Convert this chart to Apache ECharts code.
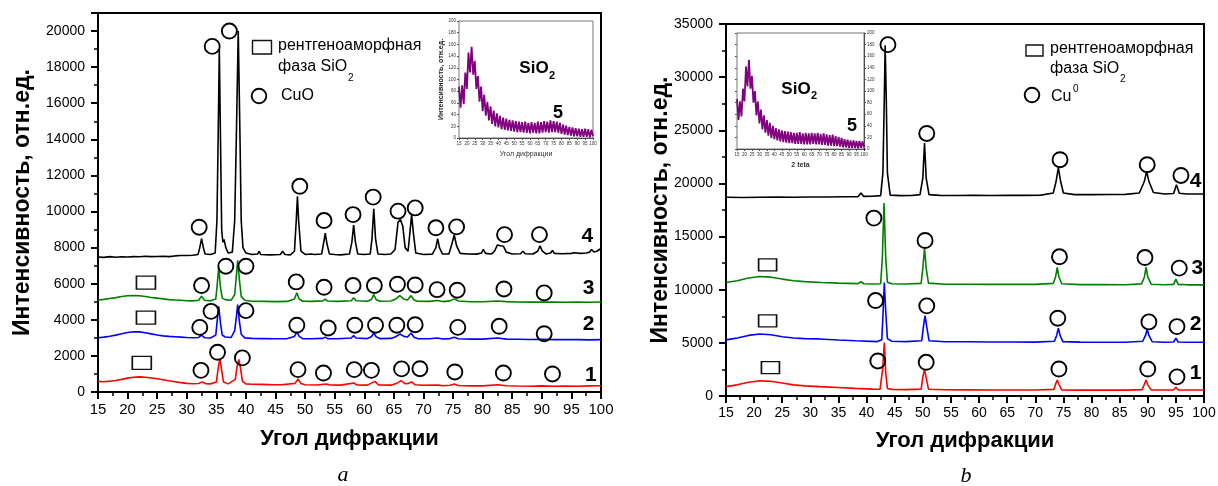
<!DOCTYPE html>
<html><head><meta charset="utf-8">
<script src="https://cdn.jsdelivr.net/npm/echarts@6/dist/echarts.min.js"></script>
<style>html,body{margin:0;padding:0;background:#fff}#c{width:1218px;height:486px}</style>
</head><body><div id="c"></div>
<script>
// ---------- Panel a (CuO) traces: [2theta, intensity] ----------
const a4 = [[15,7480],[16,7460],[17,7500],[18,7470],[19,7490],[20,7480],[21,7500],[22,7490],[23,7520],[24,7500],[25,7510],[26,7520],[27,7500],[28,7540],[29,7560],[30,7560],[31,7580],[31.9,7620],[32.2,8000],[32.5,8500],[32.8,8000],[33.1,7650],[34,7620],[34.8,7700],[35.1,9500],[35.3,14000],[35.5,19000],[35.7,14000],[35.9,9000],[36.1,8300],[36.3,8450],[36.6,8000],[37,7700],[37.7,7750],[38.1,9500],[38.4,14500],[38.7,20000],[39,14000],[39.2,9500],[39.5,8000],[40,7700],[41,7620],[42,7650],[42.2,7800],[42.5,7620],[44,7600],[45.8,7620],[46.2,7800],[46.6,7620],[47.5,7600],[48.2,7800],[48.5,9500],[48.7,10850],[48.9,9500],[49.3,7800],[50,7620],[51,7650],[51.3,7750],[51.6,7620],[52.8,7650],[53.1,8200],[53.4,8800],[53.7,8200],[54.1,7650],[55,7620],[56,7600],[57.5,7650],[57.9,8300],[58.2,9250],[58.5,8300],[58.9,7650],[60,7620],[61,7650],[61.3,8500],[61.6,10150],[61.9,8500],[62.3,7650],[63.5,7620],[64.5,7650],[65.2,7900],[65.7,9400],[66.1,9550],[66.5,9200],[66.9,8000],[67.4,7800],[67.7,8800],[68,9830],[68.3,8800],[68.7,7700],[70,7620],[71.5,7640],[72.1,8000],[72.4,8500],[72.7,8000],[73.2,7650],[74.3,7650],[74.8,8200],[75.2,8700],[75.6,8100],[76.2,7680],[77.5,7650],[79,7640],[79.8,7700],[80.1,7900],[80.5,7680],[81.5,7650],[82,7800],[82.5,8150],[83,8100],[83.5,8080],[84,7750],[85,7650],[86.4,7660],[86.8,7800],[87.2,7660],[88.5,7650],[89.3,7800],[89.7,8100],[90.1,7800],[90.7,7650],[91.5,7700],[91.8,7850],[92.1,7680],[93.5,7660],[95,7680],[95.5,7720],[96.5,7680],[97.5,7700],[98.1,7750],[98.4,7900],[98.8,7760],[99.3,7800],[100,7950]];
const a3 = [[15,5100],[16,5130],[17,5180],[18,5230],[19,5290],[20,5330],[21,5350],[22,5330],[23,5290],[24,5240],[25,5200],[26,5160],[27,5120],[28,5100],[29,5080],[30,5060],[31,5050],[32,5080],[32.5,5300],[33,5080],[34,5050],[34.9,5150],[35.1,5800],[35.4,6900],[35.7,5800],[36,5200],[36.5,5120],[37.5,5080],[38.1,5400],[38.4,6500],[38.6,7300],[38.9,6200],[39.2,5300],[39.8,5080],[41,5030],[43,5020],[45,5010],[47,5020],[48.2,5150],[48.6,5500],[49,5150],[49.6,5030],[51,5020],[53,5050],[53.4,5150],[53.8,5040],[55.5,5020],[57.8,5060],[58.2,5220],[58.6,5060],[60.5,5030],[61.2,5120],[61.6,5400],[62,5120],[62.6,5030],[64.5,5040],[65.3,5150],[66,5340],[66.7,5150],[67.3,5100],[67.9,5340],[68.4,5100],[69,5030],[71,5020],[72.3,5070],[73.3,5010],[74.5,5050],[75.2,5160],[75.9,5040],[78,5000],[80,5000],[82.5,5040],[84,5010],[86,4990],[88,4980],[90,4990],[92,4980],[94,4970],[96,4980],[98,4970],[100,4990]];
const a2 = [[15,3010],[16,3040],[17,3090],[18,3150],[19,3230],[20,3300],[21,3340],[22,3330],[23,3280],[24,3220],[25,3160],[26,3110],[27,3080],[28,3060],[29,3040],[30,3020],[31,3010],[32,3020],[32.5,3150],[33,3010],[34,2990],[34.9,3150],[35.1,3800],[35.4,4750],[35.7,3800],[36,3150],[36.5,3050],[37.5,3020],[38.1,3400],[38.4,4200],[38.6,4850],[38.9,3900],[39.2,3200],[39.8,3000],[41,2970],[43,2960],[45,2950],[47,2960],[48.2,3080],[48.6,3330],[49,3080],[49.6,2960],[51,2950],[53,2970],[53.4,3040],[53.8,2960],[55.5,2950],[57.8,2990],[58.2,3120],[58.6,2990],[60.5,2960],[61.2,3060],[61.6,3270],[62,3060],[62.6,2960],[64.5,2970],[65.3,3060],[66,3210],[66.7,3080],[67.3,3050],[67.9,3270],[68.4,3030],[69,2960],[71,2950],[72.3,2990],[73.3,2940],[74.5,2960],[75.2,3030],[75.9,2950],[78,2930],[80,2930],[82.5,2990],[84,2930],[86,2920],[88,2910],[90,2920],[92,2900],[94,2910],[96,2900],[98,2890],[100,2900]];
const a1 = [[15,590],[16,570],[17,600],[18,640],[19,700],[20,770],[21,820],[22,840],[23,820],[24,780],[25,730],[26,680],[27,620],[28,570],[29,520],[30,480],[31,460],[32,470],[32.6,560],[33.2,460],[34,450],[35,550],[35.3,1300],[35.6,1850],[35.9,1200],[36.2,560],[37,450],[38.2,700],[38.5,1400],[38.8,1800],[39.1,1300],[39.4,600],[40,450],[41,430],[42.5,420],[44,410],[46,400],[48.3,480],[48.8,720],[49.3,470],[50,400],[52,390],[53.6,440],[54.2,390],[56,380],[58.2,500],[58.8,390],[60.5,380],[61.8,590],[62.4,390],[64.5,380],[65.5,480],[66.2,630],[66.9,460],[67.5,480],[68,560],[68.6,400],[70,370],[72.5,380],[73.3,350],[74.5,370],[75.2,440],[75.9,360],[78,340],[80,340],[82.5,400],[84,350],[86,330],[88,320],[90,340],[92,320],[94,330],[96,320],[98,340],[100,350]];
const aCircles = [[32.1,9130],[34.3,19150],[37.2,20000],[49.1,11400],[53.2,9500],[58.1,9830],[61.5,10800],[65.7,10020],[68.6,10200],[72.1,9100],[75.6,9150],[83.7,8720],[89.6,8720],
  [32.5,5900],[36.6,6970],[40,6970],[48.5,6100],[53.2,5800],[58.1,5900],[61.7,5900],[65.6,5970],[68.6,5930],[72.3,5670],[75.7,5640],[83.6,5710],[90.4,5490],
  [32.2,3580],[34.1,4470],[40,4510],[48.6,3700],[53.9,3550],[58.4,3700],[61.9,3700],[65.5,3700],[68.6,3730],[75.8,3580],[82.8,3640],[90.4,3230],
  [32.4,1200],[35.2,2200],[39.4,1890],[48.8,1240],[53.1,1050],[58.3,1240],[61.2,1200],[66.3,1280],[69.4,1290],[75.3,1110],[83.5,1050],[91.8,1000]];
const aSquares = [[23.1,6060],[23.1,4120],[22.4,1610]];
const aLabels = [['4',97.7,8630],['3',97.9,5770],['2',97.9,3730],['1',98.3,950]];

// ---------- Panel b (Cu0) traces ----------
const b4 = [[15,18700],[18,18680],[21,18700],[24,18720],[27,18700],[30,18730],[33,18720],[36,18750],[38.5,18760],[39,19100],[39.5,18780],[41,18790],[42.5,18850],[42.9,21000],[43.15,28000],[43.3,33000],[43.5,28000],[43.7,21000],[44.2,18900],[46,18850],[48,18860],[49.5,18950],[50,20500],[50.3,23800],[50.6,20500],[51.1,18950],[53,18880],[56,18870],[59,18880],[62,18870],[65,18890],[68,18880],[71,18900],[73.2,19100],[73.7,20200],[74.1,21480],[74.5,20200],[75,19100],[77,18950],[80,18950],[83,18960],[86,18970],[88.5,19100],[89.4,20200],[89.8,21130],[90.2,20200],[91,19150],[93,19000],[94.6,19050],[95.1,19880],[95.6,19080],[97,19000],[100,19000]];
const b3 = [[15,10680],[17,10850],[19,11100],[21,11240],[23,11180],[25,11000],[27,10850],[29,10760],[32,10680],[35,10620],[38.5,10570],[39,10750],[39.5,10560],[41,10540],[42.5,10560],[42.8,13000],[43.1,18150],[43.4,13000],[43.7,10700],[44.5,10560],[47,10540],[49.7,10600],[50,12000],[50.3,13920],[50.6,12000],[51,10620],[54,10520],[58,10510],[62,10500],[66,10500],[70,10500],[73.2,10600],[73.6,11200],[73.9,12090],[74.2,11200],[74.7,10560],[78,10480],[82,10480],[86,10470],[88.9,10550],[89.4,11200],[89.7,12120],[90,11200],[90.6,10520],[93,10470],[94.6,10500],[95,10990],[95.4,10500],[97,10460],[100,10460]];
const b2 = [[15,5280],[17,5450],[19,5700],[21,5840],[23,5760],[25,5580],[27,5450],[29,5400],[31.6,5370],[35,5270],[38,5200],[41.9,5120],[42.7,5300],[42.95,8000],[43.15,10680],[43.4,8000],[43.7,5400],[44.5,5150],[47,5120],[49.8,5200],[50.1,6500],[50.4,7570],[50.7,6500],[51.1,5200],[54,5100],[58,5100],[62,5080],[66,5080],[70,5070],[73.4,5150],[73.8,5700],[74.1,6380],[74.4,5700],[74.9,5120],[78,5070],[82,5060],[86,5060],[89.1,5150],[89.6,5700],[89.9,6280],[90.2,5700],[90.8,5100],[93,5060],[94.6,5080],[95,5440],[95.4,5080],[97,5060],[100,5060]];
const b1 = [[15,880],[17,1050],[19,1300],[21,1440],[23,1380],[25,1220],[27,1050],[29,950],[31.6,880],[35,800],[38,720],[41,650],[42.4,640],[42.85,2500],[43.15,5020],[43.4,2200],[43.7,700],[44.5,620],[47,600],[49.7,650],[50,1800],[50.3,2510],[50.6,1700],[51,640],[54,590],[58,580],[62,570],[66,570],[70,560],[73.3,620],[73.6,1100],[73.9,1510],[74.2,1100],[74.7,580],[78,550],[82,550],[86,550],[89,600],[89.4,1100],[89.7,1510],[90,1050],[90.6,580],[93,560],[94.6,580],[95,820],[95.4,580],[97,560],[100,565]];
const bCircles = [[43.8,33060],[50.7,24700],[74.4,22230],[89.9,21760],[95.9,20750],
  [41.3,16740],[50.4,14630],[74.3,13100],[89.5,13030],[95.6,12030],
  [41.6,8980],[50.7,8480],[74,7320],[90.2,6970],[95.2,6530],
  [42,3300],[50.6,3170],[74.2,2540],[90,2540],[95.2,1800]];
const bSquares = [[22.4,12340],[22.4,7070],[22.9,2670]];
const bLabels = [['4',98.5,20190],['3',98.8,12030],['2',98.5,6780],['1',98.5,2140]];

// ---------- Insets (SiO2, sample 5): noisy band read as alternating high/low ----------
const insetX = [15,16,17,18,19,20,21,22,23,24,25,26,27,28,29,30,31,32,33,34,35,36,37,38,39,40,41,42,43,44,45,46,47,48,49,50,51,52,53,54,55,56,57,58,59,60,61,62,63,64,65,66,67,68,69,70,71,72,73,74,75,76,77,78,79,80,81,82,83,84,85,86,87,88,89,90,91,92,93,94,95,96,97,98,99,100];
const insetA = [88,52,90,58,112,84,146,112,156,108,132,84,106,62,88,46,74,38,62,30,54,24,47,20,42,18,38,15,35,14,33,13,31,12,30,11,29,10,28,10,27,9,28,9,26,8,27,9,26,8,28,8,27,9,29,10,28,9,30,10,29,10,28,9,26,7,23,6,21,5,19,4,18,3,17,3,16,2,15,2,16,2,15,1,14,3];
const insetB = [86,50,82,56,104,82,142,108,154,104,126,80,100,58,82,44,68,34,58,28,50,23,45,19,40,17,36,15,34,13,32,12,31,11,30,10,29,10,28,9,28,9,29,9,27,8,28,8,27,8,28,9,27,8,28,8,26,7,27,7,25,6,24,6,25,5,22,5,21,4,19,3,17,3,16,2,15,2,15,2,14,1,14,2,13,3];

const FONT = 'Liberation Sans, Arial, sans-serif';
const BLACK = '#000';

function mainX(gi, gap, fs) {
  return {gridIndex: gi, type: 'value', min: 15, max: 100, interval: 5,
    name: 'Угол дифракции', nameLocation: 'middle', nameGap: gap, nameMoveOverlap: false,
    nameTextStyle: {fontFamily: FONT, fontSize: 22, fontWeight: 'bold', color: BLACK},
    axisLine: {lineStyle: {color: BLACK, width: 2}},
    axisTick: {length: 7, lineStyle: {color: BLACK, width: 2}},
    minorTick: {show: true, splitNumber: 2, length: 4, lineStyle: {color: BLACK, width: 1.5}},
    axisLabel: {fontFamily: FONT, fontSize: fs, color: BLACK, margin: 10},
    splitLine: {show: false}, minorSplitLine: {show: false}};
}
function mainY(gi, max, step, gap) {
  return {gridIndex: gi, type: 'value', min: 0, max: max, interval: step,
    name: 'Интенсивность, отн.ед.', nameLocation: 'middle', nameGap: gap, nameMoveOverlap: false,
    nameTextStyle: {fontFamily: FONT, fontSize: 23, fontWeight: 'bold', color: BLACK},
    axisLine: {show: true, lineStyle: {color: BLACK, width: 2}},
    axisTick: {show: true, length: 7, lineStyle: {color: BLACK, width: 2}},
    minorTick: {show: true, splitNumber: 2, length: 4, lineStyle: {color: BLACK, width: 1.5}},
    axisLabel: {fontFamily: FONT, fontSize: 14, color: BLACK, margin: 13,
      formatter: v => (v % step === 0 ? String(v) : '')},
    splitLine: {show: false}, minorSplitLine: {show: false}};
}
function insetXAxis(gi, name) {
  return {gridIndex: gi, type: 'value', min: 15, max: 100, interval: 5,
    name: name, nameLocation: 'middle', nameGap: 13, nameMoveOverlap: false,
    nameTextStyle: {fontFamily: FONT, fontSize: 7, color: '#333', fontWeight: name === '2 teta' ? 'bold' : 'normal'},
    axisLine: {lineStyle: {color: '#222', width: 1}},
    axisTick: {length: 2, lineStyle: {color: '#222', width: 0.8}},
    axisLabel: {fontFamily: FONT, fontSize: 4.5, color: '#333', margin: 3},
    splitLine: {show: false}};
}
function insetYAxis(gi, pos, labels, name) {
  return {gridIndex: gi, type: 'value', min: 0, max: 200, interval: 20, position: pos,
    name: name, nameLocation: 'middle', nameGap: 14, nameMoveOverlap: false,
    nameTextStyle: {fontFamily: FONT, fontSize: 7, fontWeight: 'bold', color: '#222'},
    axisLine: {show: true, lineStyle: {color: '#222', width: 1}},
    axisTick: {show: true, length: 2, lineStyle: {color: '#222', width: 0.8}},
    axisLabel: {show: labels, fontFamily: FONT, fontSize: 4.5, color: '#333', margin: 3},
    splitLine: {show: false}};
}
function traceSeries(data, color, xi, yi) {
  return {type: 'line', data: data, xAxisIndex: xi, yAxisIndex: yi, showSymbol: false, symbol: 'none',
    lineStyle: {color: color, width: 1.6}, silent: true, z: 3};
}
function insetSeries(ys, xi, yi) {
  return {type: 'line', data: insetX.map((x, i) => [x, ys[i]]), xAxisIndex: xi, yAxisIndex: yi,
    showSymbol: false, symbol: 'none', lineStyle: {color: '#800080', width: 1.8}, silent: true};
}
function circleSeries(data, xi, yi) {
  return {type: 'scatter', data: data, xAxisIndex: xi, yAxisIndex: yi, symbol: 'circle', symbolSize: 15,
    itemStyle: {color: 'rgba(255,255,255,0)', borderColor: BLACK, borderWidth: 1.9, opacity: 1}, silent: true, z: 5};
}
function squareSeries(data, xi, yi, size) {
  return {type: 'scatter', data: data, xAxisIndex: xi, yAxisIndex: yi, symbol: 'rect', symbolSize: size,
    itemStyle: {color: 'rgba(255,255,255,0)', borderColor: '#111', borderWidth: 1.4, opacity: 1}, silent: true, z: 5};
}
function labelSeries(items, xi, yi) {
  return {type: 'scatter', xAxisIndex: xi, yAxisIndex: yi, symbolSize: 1,
    data: items.map(d => ({name: d[0], value: [d[1], d[2]]})),
    itemStyle: {color: 'rgba(255,255,255,0)', opacity: 1},
    label: {show: true, position: 'inside', formatter: p => p.name, opacity: 1, textBorderWidth: 0,
      fontFamily: FONT, fontSize: 21, fontWeight: 'bold', color: BLACK}, silent: true, z: 6};
}
function txt(x, y, s, size, opts) {
  opts = opts || {};
  return {type: 'text', x: x, y: y, z: 10, silent: true,
    style: {text: s, fontSize: size, fontFamily: opts.family || FONT, fontWeight: opts.weight || 'normal',
      fontStyle: opts.style || 'normal', fill: opts.fill || BLACK,
      align: opts.align || 'left', verticalAlign: 'middle',
      textAlign: opts.align || 'left', textVerticalAlign: 'middle'}};
}

const chart = echarts.init(document.getElementById('c'), null, {renderer: 'canvas'});
chart.setOption({
  animation: false,
  backgroundColor: '#fff',
  grid: [
    {left: 98, top: 13, width: 503, height: 379, show: true, borderColor: BLACK, borderWidth: 2, backgroundColor: 'transparent', outerBoundsMode: 'none', containLabel: false},
    {left: 726, top: 24, width: 478, height: 372, show: true, borderColor: BLACK, borderWidth: 2, backgroundColor: 'transparent', outerBoundsMode: 'none', containLabel: false},
    {left: 459, top: 21, width: 134, height: 117, show: true, borderColor: '#777', borderWidth: 1, backgroundColor: '#fff', outerBoundsMode: 'none', containLabel: false, z: 1},
    {left: 737, top: 33, width: 127, height: 116, show: true, borderColor: '#777', borderWidth: 1, backgroundColor: '#fff', outerBoundsMode: 'none', containLabel: false, z: 1}
  ],
  xAxis: [mainX(0, 36, 15), mainX(1, 34, 14), insetXAxis(2, 'Угол дифракции'), insetXAxis(3, '2 teta')],
  yAxis: [mainY(0, 21000, 2000, 64), mainY(1, 35000, 5000, 54),
    insetYAxis(2, 'left', true, 'Интенсивность, отн.ед.'),
    insetYAxis(3, 'right', true, ''), insetYAxis(3, 'left', false, '')],
  series: [
    traceSeries(a1, '#ff0000', 0, 0), traceSeries(a2, '#0000ff', 0, 0),
    traceSeries(a3, '#008000', 0, 0), traceSeries(a4, BLACK, 0, 0),
    circleSeries(aCircles, 0, 0), squareSeries(aSquares, 0, 0, [19, 13]), labelSeries(aLabels, 0, 0),
    traceSeries(b1, '#ff0000', 1, 1), traceSeries(b2, '#0000ff', 1, 1),
    traceSeries(b3, '#008000', 1, 1), traceSeries(b4, BLACK, 1, 1),
    circleSeries(bCircles, 1, 1), squareSeries(bSquares, 1, 1, [18, 12]), labelSeries(bLabels, 1, 1),
    insetSeries(insetA, 2, 2), insetSeries(insetB, 3, 3)
  ],
  graphic: [
    // legend panel a
    {type: 'rect', shape: {x: 252.5, y: 40.5, width: 19, height: 13.5}, style: {fill: 'none', stroke: '#111', lineWidth: 1.4}, z: 10, silent: true},
    txt(278, 46, 'рентгеноаморфная', 16),
    txt(278, 67, 'фаза SiO', 16),
    txt(348, 78, '2', 10),
    {type: 'circle', shape: {cx: 259, cy: 96, r: 7.3}, style: {fill: 'none', stroke: BLACK, lineWidth: 1.9}, z: 10, silent: true},
    txt(281, 96, 'CuO', 16),
    // legend panel b
    {type: 'rect', shape: {x: 1026, y: 45, width: 17, height: 11}, style: {fill: 'none', stroke: '#111', lineWidth: 1.4}, z: 10, silent: true},
    txt(1050, 49, 'рентгеноаморфная', 16),
    txt(1050, 69, 'фаза SiO', 16),
    txt(1120, 79, '2', 10),
    {type: 'circle', shape: {cx: 1032, cy: 95, r: 7.3}, style: {fill: 'none', stroke: BLACK, lineWidth: 1.9}, z: 10, silent: true},
    txt(1051, 97, 'Cu', 16),
    txt(1073, 89, '0', 10),
    // inset labels
    txt(534, 68, 'SiO', 17, {weight: 'bold', align: 'center'}),
    txt(552, 76, '2', 11, {weight: 'bold', align: 'center'}),
    txt(558, 113, '5', 18, {weight: 'bold', align: 'center'}),
    txt(796, 89, 'SiO', 17, {weight: 'bold', align: 'center'}),
    txt(814, 96, '2', 11, {weight: 'bold', align: 'center'}),
    txt(852, 126, '5', 18, {weight: 'bold', align: 'center'}),
    // captions
    txt(343, 475, 'a', 22, {family: 'Liberation Serif, Times New Roman, serif', style: 'italic', align: 'center'}),
    txt(966, 476, 'b', 22, {family: 'Liberation Serif, Times New Roman, serif', style: 'italic', align: 'center'})
  ]
});
</script>
</body></html>
